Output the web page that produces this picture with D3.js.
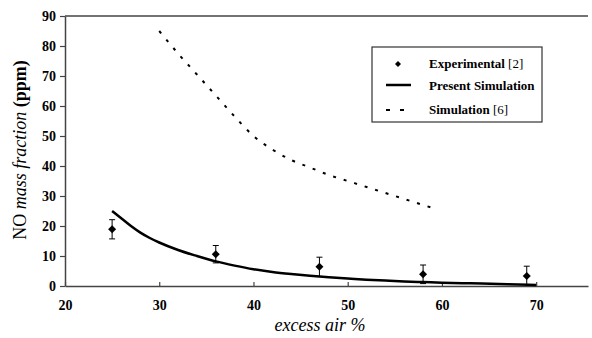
<!DOCTYPE html>
<html>
<head>
<meta charset="utf-8">
<script src="https://cdn.jsdelivr.net/npm/d3@7"></script>
<style>
	body { margin: 0; background: #fff; }
	svg { display: block; }
</style>
</head>
<body>
<svg class="display"></svg>
<script>
// experimental points with error bars
const expX = [25, 36, 47, 58, 69],
	expY = [18.9, 10.6, 6.4, 3.9, 3.3],
	expErr = [3.2, 2.9, 3.2, 3.1, 3.3];

// present simulation (solid)
const simX = [25, 26, 27, 28, 29, 30, 32, 34, 36, 38, 40, 42, 44, 46, 48, 50, 52, 54, 56, 58, 60, 63, 67, 70],
	simY = [25, 22.5, 20, 17.8, 16, 14.5, 12, 10, 8.2, 6.8, 5.6, 4.7, 4, 3.4, 2.9, 2.5, 2.1, 1.8, 1.5, 1.3, 1.1, 0.9, 0.6, 0.3];

// simulation [6] (dashed)
const refX = [30, 32, 34, 36, 38, 40, 42, 44, 46, 48, 50, 52, 54, 56, 58, 59.5],
	refY = [85, 77.5, 70.5, 63.5, 56.5, 50, 45.5, 42, 39.5, 37, 35, 33, 31, 29, 27, 25.5];

const xTicks = [20, 30, 40, 50, 60, 70],
	yTicks = [0, 10, 20, 30, 40, 50, 60, 70, 80, 90];

const totalWidth = 592,
	totalHeight = 338,
	margin = { top: 16, right: 4, bottom: 52, left: 65 },
	width = totalWidth - margin.left - margin.right,
	height = totalHeight - margin.top - margin.bottom;

const xScale = d3.scaleLinear().domain([20, 75.5]).range([0, width]);
const yScale = d3.scaleLinear().domain([0, 90]).range([height, 0]);

const svg = d3.select('.display')
	.attr('width', totalWidth)
	.attr('height', totalHeight);

const display = svg.append('g')
	.attr('transform', 'translate(' + margin.left + ',' + margin.top + ')');

const axisColor = '#444';
const serif = 'Liberation Serif';

//top border
display.append('line')
	.attr('x1', 0).attr('x2', width)
	.attr('y1', 0).attr('y2', 0)
	.attr('stroke', axisColor).attr('stroke-width', 1.5);

//x axis
const xAxis = d3.axisBottom(xScale).tickValues(xTicks).tickSizeInner(-4).tickSizeOuter(0).tickPadding(14);
const gx = display.append('g')
	.attr('transform', 'translate(0,' + height + ')')
	.call(xAxis);

//y axis
const yAxis = d3.axisLeft(yScale).tickValues(yTicks).tickSizeInner(5).tickSizeOuter(0).tickPadding(4);
const gy = display.append('g').call(yAxis);

[gx, gy].forEach((g) => {
	g.attr('font-family', serif);
	g.select('.domain').attr('stroke', axisColor).attr('stroke-width', 1.5);
	g.selectAll('.tick line').attr('stroke', axisColor).attr('stroke-width', 1.2);
	g.selectAll('.tick text')
		.style('font-family', serif)
		.style('font-weight', 'bold')
		.style('font-size', '14px')
		.attr('fill', '#000');
});

//dashed curve
const line = d3.line().x((d) => xScale(d[0])).y((d) => yScale(d[1])).curve(d3.curveMonotoneX);

display.append('path')
	.datum(refX.map((x, i) => [x, refY[i]]))
	.attr('d', line)
	.attr('fill', 'none')
	.attr('stroke', '#000')
	.attr('stroke-width', 2)
	.attr('stroke-dasharray', '3,8');

//solid curve
display.append('path')
	.datum(simX.map((x, i) => [x, simY[i]]))
	.attr('d', line)
	.attr('fill', 'none')
	.attr('stroke', '#000')
	.attr('stroke-width', 2.5);

//error bars + diamonds
const pts = display.selectAll('g.pt')
	.data(expX.map((x, i) => ({ x: x, y: expY[i], e: expErr[i] })))
	.enter().append('g').attr('class', 'pt');

pts.append('line')
	.attr('x1', (d) => xScale(d.x)).attr('x2', (d) => xScale(d.x))
	.attr('y1', (d) => yScale(d.y + d.e)).attr('y2', (d) => yScale(Math.max(0, d.y - d.e)))
	.attr('stroke', '#000').attr('stroke-width', 1);

pts.selectAll('line.cap')
	.data((d) => [d.y + d.e, d.y - d.e].filter((v) => v > 0.5).map((v) => ({ x: d.x, v: v })))
	.enter().append('line')
	.attr('class', 'cap')
	.attr('x1', (d) => xScale(d.x) - 3).attr('x2', (d) => xScale(d.x) + 3)
	.attr('y1', (d) => yScale(d.v)).attr('y2', (d) => yScale(d.v))
	.attr('stroke', '#000').attr('stroke-width', 1);

// squat diamond like the original marker
pts.append('path')
	.attr('d', 'M0,-4L4,0L0,4L-4,0Z')
	.attr('transform', (d) => 'translate(' + xScale(d.x) + ',' + yScale(d.y) + ')')
	.attr('fill', '#000');

//legend
const legend = svg.append('g').attr('transform', 'translate(372,47)');
legend.append('rect')
	.attr('width', 170).attr('height', 75)
	.attr('fill', '#fff').attr('stroke', '#333').attr('stroke-width', 1.2);

legend.append('path')
	.attr('d', 'M0,-3L3,0L0,3L-3,0Z')
	.attr('transform', 'translate(26,17)')
	.attr('fill', '#000');
legend.append('line')
	.attr('x1', 14).attr('x2', 39).attr('y1', 38).attr('y2', 38)
	.attr('stroke', '#000').attr('stroke-width', 2.5);
legend.append('line')
	.attr('x1', 14).attr('x2', 34).attr('y1', 63).attr('y2', 63)
	.attr('stroke', '#000').attr('stroke-width', 2)
	.attr('stroke-dasharray', '4,10');

const legendItems = [
	['Experimental', ' [2]', 21],
	['Present Simulation', '', 43],
	['Simulation', ' [6]', 67]
];
legendItems.forEach((it) => {
	const t = legend.append('text')
		.attr('x', 57).attr('y', it[2])
		.style('font-family', serif)
		.style('font-size', '13px')
		.attr('fill', '#000');
	t.append('tspan').style('font-weight', 'bold').text(it[0]);
	t.append('tspan').text(it[1]);
});

//x axis label
svg.append('text')
	.attr('x', 320).attr('y', 331)
	.attr('text-anchor', 'middle')
	.style('font-family', serif)
	.style('font-style', 'italic')
	.style('font-size', '18px')
	.attr('fill', '#000')
	.text('excess air %');

//y axis label
const yl = svg.append('text')
	.attr('transform', 'translate(26,150) rotate(-90)')
	.attr('text-anchor', 'middle')
	.style('font-family', serif)
	.style('font-size', '18px')
	.attr('fill', '#000');
yl.append('tspan').text('NO ');
yl.append('tspan').style('font-style', 'italic').text('mass fraction');
yl.append('tspan').style('font-weight', 'bold').text('  (ppm)');
</script>
</body>
</html>
